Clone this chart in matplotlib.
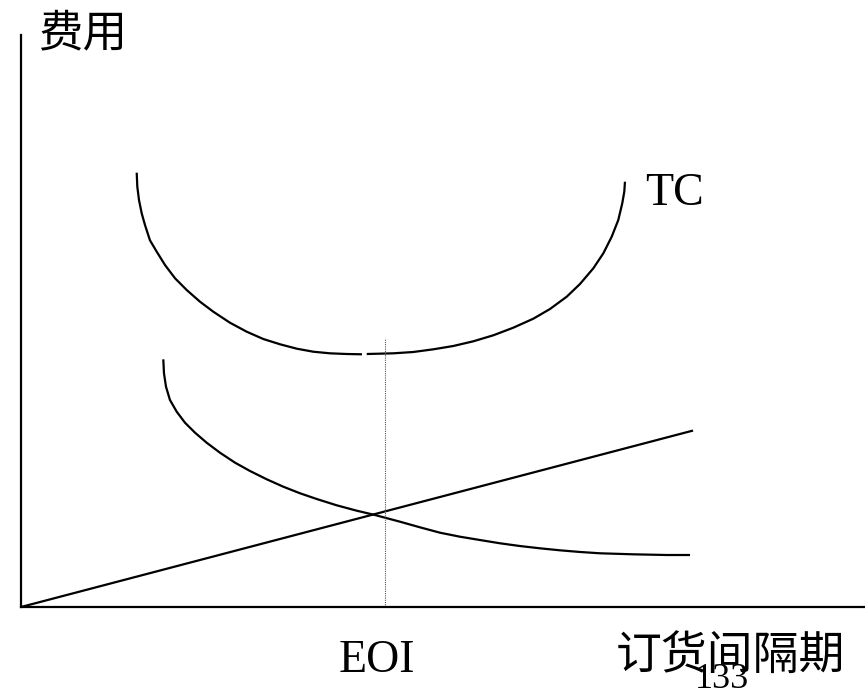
import matplotlib.pyplot as plt
import numpy as np

plt.rcParams['font.family'] = ['Liberation Serif', 'Noto Sans CJK SC', 'DejaVu Sans']

# readings from the picture (x: order interval, y: cost, arbitrary units)
# total cost curve, drawn in two pieces with a small gap near the minimum
tc_left_x = [13.71, 13.78, 13.98, 14.30, 14.69, 15.28, 16.08, 17.06, 18.25, 19.63, 21.21,
             22.78, 24.76, 26.74, 28.71, 30.69, 32.67, 34.63, 36.61, 38.59, 40.40]
tc_left_y = [75.93, 73.48, 71.15, 68.83, 66.78, 64.11, 62.12, 59.79, 57.47, 55.42, 53.37,
             51.63, 49.70, 48.13, 46.85, 45.93, 45.16, 44.63, 44.35, 44.23, 44.18]
tc_right_x = [40.96, 44.11, 46.48, 48.85, 51.22, 53.59, 55.96, 58.33, 60.70, 62.68,
              64.66, 66.23, 67.81, 69.00, 69.99, 70.77, 71.24, 71.48, 71.56]
tc_right_y = [44.23, 44.35, 44.58, 45.05, 45.63, 46.45, 47.50, 48.83, 50.40, 52.10,
              54.25, 56.47, 59.21, 61.84, 64.74, 67.66, 70.58, 72.61, 74.35]

# ordering cost curve
order_x = [16.86, 16.94, 17.18, 17.65, 18.45, 19.43, 20.62, 22.00, 23.58, 25.36, 27.13,
           29.11, 31.08, 33.06, 35.04, 37.40, 39.77, 41.94, 44.91, 47.27, 49.64, 52.01,
           54.38, 56.75, 59.12, 61.49, 63.86, 66.23, 68.60, 72.55, 76.50, 79.27]
order_y = [43.30, 40.86, 38.51, 36.19, 34.14, 32.22, 30.47, 28.72, 26.97, 25.23, 23.78,
           22.33, 21.03, 19.88, 18.88, 17.78, 16.84, 16.08, 14.91, 13.93, 12.99, 12.29,
           11.71, 11.14, 10.66, 10.26, 9.91, 9.62, 9.39, 9.21, 9.09, 9.09]

# holding cost line
hold_x = [0.0, 79.5]
hold_y = [0.0, 30.8]

eoi_x = 43.1
eoi_top = 47.0

fig = plt.figure(figsize=(8.65, 6.88), dpi=100)
ax = fig.add_axes([21 / 865, 81 / 688, 844 / 865, 572 / 688])
ax.set_xlim(0, 100)
ax.set_ylim(0, 100)

lw = 1.6
ax.plot(tc_left_x, tc_left_y, color='black', lw=lw, solid_capstyle='butt')
ax.plot(tc_right_x, tc_right_y, color='black', lw=lw, solid_capstyle='butt')
ax.plot(order_x, order_y, color='black', lw=lw, solid_capstyle='butt')
ax.plot(hold_x, hold_y, color='black', lw=lw)
ax.plot([eoi_x, eoi_x], [0, eoi_top], color='#555555', lw=0.8, linestyle=(0, (1, 1)))

for s in ['top', 'right']:
    ax.spines[s].set_visible(False)
for s in ['left', 'bottom']:
    ax.spines[s].set_linewidth(1.6)
ax.set_xticks([])
ax.set_yticks([])

fig.text(0.044, 0.952, '费用', fontsize=32, va='center', ha='left',
         family=['Noto Sans CJK SC'])
fig.text(0.746, 0.719, 'TC', fontsize=33, va='center', ha='left')
fig.text(0.436, 0.040, 'EOI', fontsize=33, va='center', ha='center')
fig.text(0.712, 0.045, '订货间隔期', fontsize=33, va='center', ha='left',
         family=['Noto Sans CJK SC'])
fig.text(0.835, 0.036, '133', fontsize=26, va='top', ha='center')

fig.savefig('out.png', dpi=100)
